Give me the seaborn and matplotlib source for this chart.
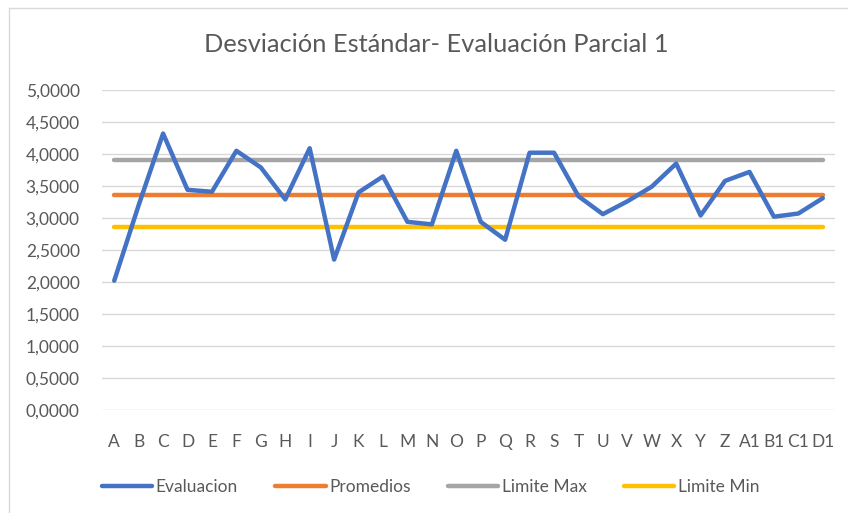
import matplotlib
matplotlib.use("Agg")
import matplotlib.pyplot as plt
import seaborn as sns
import pandas as pd
import numpy as np
from matplotlib.lines import Line2D

categories = ["A", "B", "C", "D", "E", "F", "G", "H", "I", "J", "K", "L", "M", "N", "O",
              "P", "Q", "R", "S", "T", "U", "V", "W", "X", "Y", "Z", "A1", "B1", "C1", "D1"]
evaluacion = [2.02, 3.20, 4.32, 3.44, 3.41, 4.05, 3.79, 3.29, 4.09, 2.35,
              3.40, 3.65, 2.94, 2.90, 4.05, 2.94, 2.66, 4.02, 4.02, 3.34,
              3.06, 3.26, 3.49, 3.85, 3.04, 3.58, 3.72, 3.02, 3.07, 3.31]
promedio = 3.365
limite_max = 3.905
limite_min = 2.860
series_names = ["Evaluacion", "Promedios", "Limite Max", "Limite Min"]
y_ticks = [0.0, 0.5, 1.0, 1.5, 2.0, 2.5, 3.0, 3.5, 4.0, 4.5, 5.0]
title = "Desviación Estándar- Evaluación Parcial 1"

colors = ["#4472C4", "#ED7D31", "#A5A5A5", "#FFC000"]
text_color = "#595959"

sns.set_theme(style="white")
plt.rcParams["font.family"] = ["Lato", "DejaVu Sans"]

n = len(categories)
df = pd.DataFrame({
    "idx": list(range(n)) * 4,
    "valor": evaluacion + [promedio] * n + [limite_max] * n + [limite_min] * n,
    "serie": sum([[s] * n for s in series_names], []),
})

fig = plt.figure(figsize=(8.48, 5.13), dpi=100)
ax = fig.add_axes([102 / 848, 1 - 410 / 513, (835 - 102) / 848, (410 - 90) / 513])

# horizontal reference lines drawn first, evaluation on top
order = ["Promedios", "Limite Max", "Limite Min", "Evaluacion"]
for s in order:
    sub = df[df["serie"] == s]
    sns.lineplot(data=sub, x="idx", y="valor", ax=ax, color=colors[series_names.index(s)],
                 linewidth=3.2, sort=False, solid_capstyle="round", solid_joinstyle="round",
                 zorder=3 if s == "Evaluacion" else 2, legend=False)

ax.set_xlim(-0.5, n - 0.5)
ax.set_ylim(0, 5)
ax.set_yticks(y_ticks)
ax.set_yticklabels([f"{v:.4f}".replace(".", ",") for v in y_ticks])
ax.set_xticks(range(n))
ax.set_xticklabels(categories)
ax.grid(axis="y", color="#D9D9D9", linewidth=1.0)
ax.grid(axis="x", visible=False)
for sp in ax.spines.values():
    sp.set_visible(False)
ax.tick_params(axis="both", length=0, colors=text_color, labelsize=12.5)
ax.tick_params(axis="y", pad=16)
ax.tick_params(axis="x", pad=17)
ax.set_xlabel("")
ax.set_ylabel("")

fig.text(436 / 848, 1 - 45 / 513, title, ha="center", va="center", fontsize=18.3, color=text_color)

handles = [Line2D([0], [0], color=c, linewidth=3.2, solid_capstyle="round") for c in colors]
leg = fig.legend(handles, series_names, loc="center left", bbox_to_anchor=(102 / 848, 1 - 487 / 513),
                 ncol=4, frameon=False, fontsize=12.5, handlelength=2.9, handletextpad=0.2,
                 columnspacing=2.15, borderaxespad=0, borderpad=0)
for t in leg.get_texts():
    t.set_color(text_color)

# chart area border (partially cropped in the reference)
fig.add_artist(Line2D([9 / 848, 9 / 848], [0, 1 - 8 / 513], transform=fig.transFigure, color="#D9D9D9", linewidth=1))
fig.add_artist(Line2D([9 / 848, 1], [1 - 8 / 513, 1 - 8 / 513], transform=fig.transFigure, color="#D9D9D9", linewidth=1))

fig.savefig("out.png", dpi=100)
